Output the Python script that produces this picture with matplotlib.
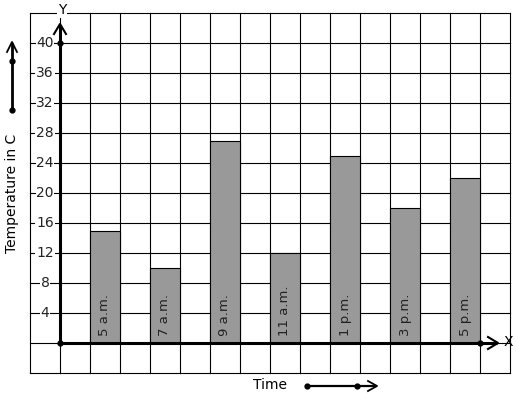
import matplotlib
matplotlib.use("Agg")
import matplotlib.pyplot as plt

times = ["5 a.m.", "7 a.m.", "9 a.m.", "11 a.m.", "1 p.m.", "3 p.m.", "5 p.m."]
temps = [15, 10, 27, 12, 25, 18, 22]
yticks = [4, 8, 12, 16, 20, 24, 28, 32, 36, 40]

W, H = 517, 399
fig = plt.figure(figsize=(W / 100, H / 100), dpi=100)
ax = fig.add_axes([0, 0, 1, 1])
# data units: 1 x-unit = 30 px, 4 temp units = 30 px; origin at pixel (60, 343)
X0, Y0 = 60, 343
ax.set_xlim(-X0 / 30, (W - X0) / 30)
ax.set_ylim(-(H - Y0) / 30 * 4, Y0 / 30 * 4)
ax.axis("off")

def P(px, py):
    return ((px - X0) / 30, (Y0 - py) / 30 * 4)

# grid
for gx in range(-1, 16):
    ax.plot([gx, gx], [-4, 44], color="black", lw=0.8, zorder=1)
for gy in range(-4, 45, 4):
    ax.plot([-1, 15], [gy, gy], color="black", lw=0.8, zorder=1)

# bars
xs = [1.5 + 2 * i for i in range(len(times))]
ax.bar(xs, temps, width=1, color="#999999", edgecolor="black", linewidth=0.8, zorder=2)
for x, t in zip(xs, times):
    ax.text(x, 1.0, t, rotation=90, ha="center", va="bottom", fontsize=9.5,
            color="#222222", zorder=3)

# axes lines
ax.plot([0, 0], [0, P(0, 25)[1]], color="black", lw=2.2, zorder=4, solid_capstyle="butt")
ax.plot([0, P(497, 0)[0]], [0, 0], color="black", lw=2.2, zorder=4, solid_capstyle="butt")
# chevrons
a, b, c = P(54, 34), P(60, 24), P(66, 34)
ax.plot([a[0], b[0], c[0]], [a[1], b[1], c[1]], color="black", lw=1.5, zorder=5)
a, b, c = P(488, 337), P(498, 343), P(488, 349)
ax.plot([a[0], b[0], c[0]], [a[1], b[1], c[1]], color="black", lw=1.5, zorder=5)
ax.plot([0, 0, 14], [0, 40, 0], "o", color="black", ms=3.5, zorder=6)

# tick labels
for t in yticks:
    ax.text(-0.5, t, str(t), ha="center", va="center", fontsize=10, color="#222222",
            bbox=dict(facecolor="white", edgecolor="none", pad=0.5), zorder=3)

ax.text(*P(62, 10), "Y", ha="center", va="center", fontsize=10,
        bbox=dict(facecolor="white", edgecolor="none", pad=0.5), zorder=3)
ax.text(*P(508, 342), "X", ha="center", va="center", fontsize=10, zorder=3)

ax.text(*P(12, 193), "Temperature in C", rotation=90, ha="center", va="center", fontsize=10)
ax.text(*P(270, 385), "Time", ha="center", va="center", fontsize=10)

# decorative arrows
p1, p2 = P(12, 110), P(12, 44)
ax.plot([p1[0], p2[0]], [p1[1], p2[1]], color="black", lw=2, zorder=4)
a, b, c = P(7, 52), P(12, 42), P(17, 52)
ax.plot([a[0], b[0], c[0]], [a[1], b[1], c[1]], color="black", lw=1.3, zorder=5)
ax.plot([P(12, 110)[0], P(12, 61)[0]], [P(12, 110)[1], P(12, 61)[1]], "o", color="black", ms=3.5)

p1, p2 = P(307, 386), P(375, 386)
ax.plot([p1[0], p2[0]], [p1[1], p2[1]], color="black", lw=1.6, zorder=4)
a, b, c = P(368, 381), P(377, 386), P(368, 391)
ax.plot([a[0], b[0], c[0]], [a[1], b[1], c[1]], color="black", lw=1.3, zorder=5)
ax.plot([P(307, 386)[0], P(357, 386)[0]], [P(307, 386)[1], P(357, 386)[1]], "o", color="black", ms=3.5)

fig.savefig("out.png", dpi=100, facecolor="white")
